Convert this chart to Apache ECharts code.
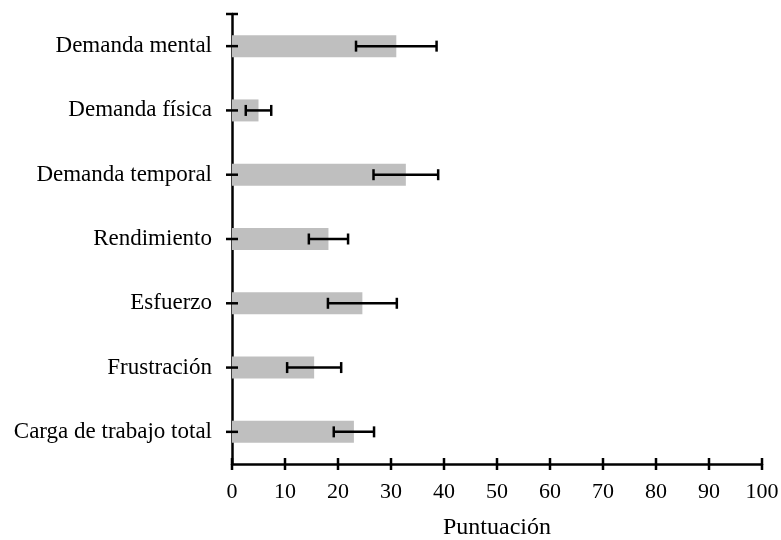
<!DOCTYPE html>
<html>
<head>
<meta charset="utf-8">
<script src="https://cdn.jsdelivr.net/npm/echarts@6/dist/echarts.min.js"></script>
<style>
  html, body { margin: 0; padding: 0; background: #fff; }
  #chart { width: 781px; height: 540px; }
</style>
</head>
<body>
<div id="chart"></div>
<script>
// NASA-TLX dimensions: mean score and error (half width of the bar)
const categories = [
  'Demanda mental',
  'Demanda física',
  'Demanda temporal',
  'Rendimiento',
  'Esfuerzo',
  'Frustración',
  'Carga de trabajo total'
];
const means  = [31.0, 5.0, 32.8, 18.2, 24.6, 15.5, 23.0];
const errors = [7.6, 2.4, 6.1, 3.7, 6.5, 5.1, 3.8];
const xTicks = [0, 10, 20, 30, 40, 50, 60, 70, 80, 90, 100];

const FONT = '"Liberation Serif", "Times New Roman", serif';
const INK = '#000';
const TICK = 6;       // half length of the crossing tick marks
const TICK_W = 2.5;

const errData = categories.map((c, i) => [i, means[i] - errors[i], means[i] + errors[i]]);
const catTickData = categories.map((c, i) => [i]);
const valTickData = xTicks.map(v => [v]);

const chart = echarts.init(document.getElementById('chart'), null, { renderer: 'canvas' });

chart.setOption({
  animation: false,
  backgroundColor: '#fff',
  grid: {
    left: 232, right: 19, top: 14, bottom: 76,
    containLabel: false,
    outerBoundsMode: 'none'
  },
  xAxis: {
    type: 'value',
    min: xTicks[0],
    max: xTicks[xTicks.length - 1],
    interval: xTicks[1] - xTicks[0],
    splitLine: { show: false },
    name: 'Puntuación',
    nameLocation: 'middle',
    nameGap: 52,
    nameTextStyle: { fontFamily: FONT, fontSize: 24, color: INK },
    axisLine: { show: true, lineStyle: { color: INK, width: 2.5 } },
    axisTick: { show: false },
    axisLabel: { show: true, margin: 17, fontFamily: FONT, fontSize: 22, color: INK }
  },
  yAxis: {
    type: 'category',
    data: categories,
    inverse: true,
    splitLine: { show: false },
    axisLine: { show: true, lineStyle: { color: INK, width: 2.5 } },
    axisTick: { show: false },
    axisLabel: {
      show: true, margin: 20, fontFamily: FONT, fontSize: 23, color: INK,
      padding: [3, 0, 0, 0]
    }
  },
  series: [
    {
      type: 'bar',
      data: means,
      barWidth: 22,
      itemStyle: { color: '#bfbfbf' },
      z: 2
    },
    {
      // error bars with end caps
      type: 'custom',
      data: errData,
      encode: { y: 0, x: [1, 2] },
      z: 5,
      silent: true,
      renderItem: function (params, api) {
        const cat = api.value(0);
        const lo = api.coord([api.value(1), cat]);
        const hi = api.coord([api.value(2), cat]);
        const cap = 5.5;
        const style = { stroke: INK, lineWidth: 2.5 };
        return {
          type: 'group',
          children: [
            { type: 'line', shape: { x1: lo[0], y1: lo[1], x2: hi[0], y2: hi[1] }, style: style },
            { type: 'line', shape: { x1: lo[0], y1: lo[1] - cap, x2: lo[0], y2: lo[1] + cap }, style: style },
            { type: 'line', shape: { x1: hi[0], y1: hi[1] - cap, x2: hi[0], y2: hi[1] + cap }, style: style }
          ]
        };
      }
    },
    {
      // crossing tick marks on the category axis, plus the end cap on top
      type: 'custom',
      data: catTickData,
      encode: { y: 0 },
      z: 6,
      silent: true,
      renderItem: function (params, api) {
        const cs = params.coordSys;
        const y = api.coord([0, api.value(0)])[1];
        const children = [
          { type: 'line', shape: { x1: cs.x - TICK, y1: y, x2: cs.x + TICK, y2: y },
            style: { stroke: INK, lineWidth: TICK_W } }
        ];
        if (params.dataIndex === 0) {
          children.push({ type: 'line', shape: { x1: cs.x - TICK, y1: cs.y, x2: cs.x + TICK, y2: cs.y },
            style: { stroke: INK, lineWidth: TICK_W } });
        }
        return { type: 'group', children: children };
      }
    },
    {
      // crossing tick marks on the value axis
      type: 'custom',
      data: valTickData,
      encode: { x: 0 },
      z: 6,
      silent: true,
      clip: false,
      renderItem: function (params, api) {
        const cs = params.coordSys;
        const x = api.coord([api.value(0), 0])[0];
        const yb = cs.y + cs.height;
        return {
          type: 'line',
          shape: { x1: x, y1: yb - TICK, x2: x, y2: yb + TICK },
          style: { stroke: INK, lineWidth: TICK_W }
        };
      }
    }
  ]
});
</script>
</body>
</html>
